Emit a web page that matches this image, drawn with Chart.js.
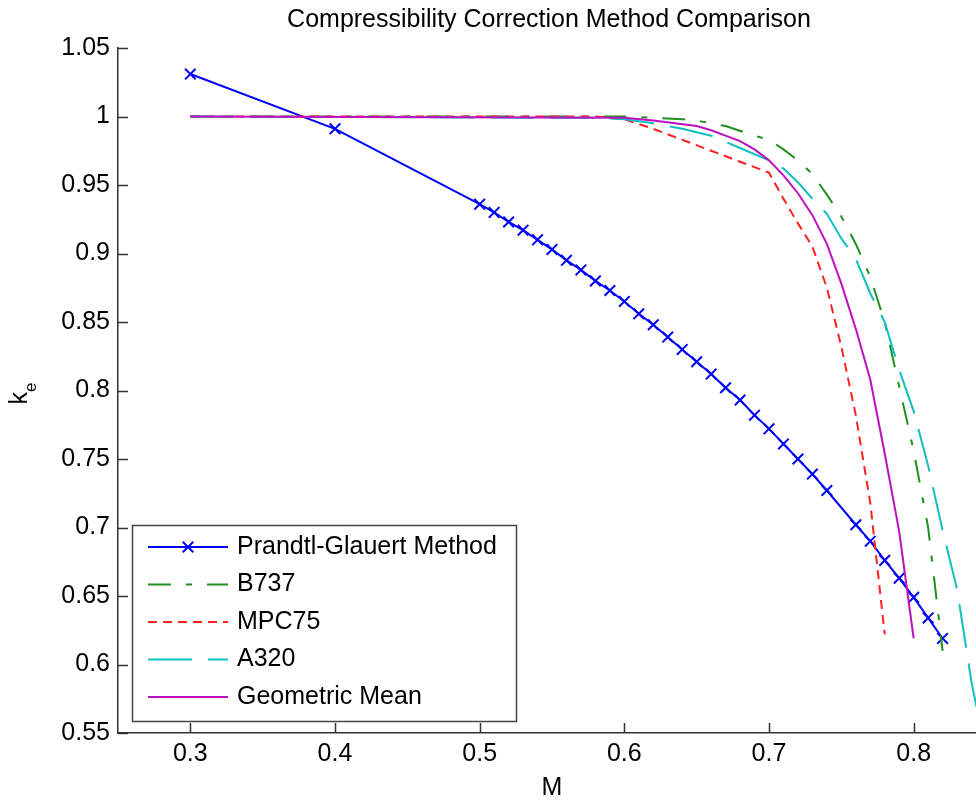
<!DOCTYPE html>
<html><head><meta charset="utf-8">
<script src="https://cdn.jsdelivr.net/npm/chart.js@4.4.1/dist/chart.umd.min.js"></script>
<style>html,body{margin:0;padding:0;overflow:hidden;background:#fff;width:976px;height:802px}canvas{display:block}</style>
</head><body>
<canvas id="c" width="1098" height="802"></canvas>
<script>
const titleText = 'Compressibility Correction Method Comparison';
const xAxisTitle = 'M';
const yAxisMain = 'k';
const yAxisSub = 'e';
const xTickValues = [0.3, 0.4, 0.5, 0.6, 0.7, 0.8];
const xTickLabels = ['0.3', '0.4', '0.5', '0.6', '0.7', '0.8'];
const yTickValues = [0.55, 0.6, 0.65, 0.7, 0.75, 0.8, 0.85, 0.9, 0.95, 1.0, 1.05];
const yTickLabels = ['0.55', '0.6', '0.65', '0.7', '0.75', '0.8', '0.85', '0.9', '0.95', '1', '1.05'];
const seriesNames = ['Prandtl-Glauert Method', 'B737', 'MPC75', 'A320', 'Geometric Mean'];

const pgMach = [0.30,0.40,0.50,0.51,0.52,0.53,0.54,0.55,0.56,0.57,0.58,0.59,0.60,0.61,0.62,0.63,0.64,0.65,0.66,0.67,0.68,0.69,0.70,0.71,0.72,0.73,0.74,0.76,0.77,0.78,0.79,0.80,0.81,0.82];
const pgKe   = [1.031,0.991,0.936,0.930,0.923,0.917,0.910,0.903,0.895,0.888,0.880,0.873,0.865,0.856,0.848,0.839,0.830,0.821,0.812,0.802,0.793,0.782,0.772,0.761,0.750,0.739,0.727,0.702,0.690,0.676,0.663,0.649,0.634,0.619];

const b737Mach = [0.30,0.60,0.62,0.64,0.65,0.67,0.69,0.70,0.71,0.72,0.73,0.74,0.75,0.76,0.77,0.78,0.79,0.80,0.81,0.82];
const b737Ke   = [1.000,1.000,0.999,0.998,0.997,0.993,0.986,0.983,0.976,0.968,0.958,0.943,0.927,0.907,0.883,0.850,0.803,0.756,0.700,0.610];

const mpc75Mach = [0.30,0.58,0.60,0.62,0.64,0.66,0.68,0.70,0.71,0.72,0.73,0.74,0.75,0.76,0.77,0.78];
const mpc75Ke   = [1.000,1.000,0.998,0.991,0.983,0.975,0.967,0.959,0.940,0.922,0.905,0.875,0.832,0.782,0.718,0.622];

const a320Mach = [0.30,0.58,0.60,0.62,0.64,0.66,0.68,0.70,0.71,0.72,0.73,0.74,0.75,0.76,0.77,0.78,0.79,0.80,0.81,0.82,0.83,0.84,0.85];
const a320Ke   = [1.000,0.999,0.998,0.995,0.991,0.986,0.977,0.968,0.962,0.952,0.940,0.929,0.911,0.896,0.871,0.850,0.815,0.785,0.745,0.698,0.655,0.587,0.535];

const geoMach = [0.30,0.60,0.62,0.65,0.66,0.68,0.69,0.70,0.71,0.72,0.73,0.74,0.75,0.76,0.77,0.78,0.79,0.80];
const geoKe   = [1.000,0.999,0.997,0.993,0.990,0.982,0.976,0.968,0.957,0.944,0.928,0.907,0.878,0.845,0.808,0.754,0.697,0.619];

const pts = (xs, ys) => xs.map((v, i) => ({x: v, y: ys[i]}));
const FONT = "'Liberation Sans', Arial, sans-serif";
const AXIS = '#333333';

const datasets = [
  {label: seriesNames[0], data: pts(pgMach, pgKe), borderColor: '#0000ff', borderWidth: 2, borderDash: [],
   pointStyle: 'crossRot', pointRadius: 7.5, pointBorderWidth: 2, pointBorderColor: '#0000ff', pointBackgroundColor: '#0000ff', order: 4},
  {label: seriesNames[1], data: pts(b737Mach, b737Ke), borderColor: '#1f8f1f', borderWidth: 2, borderDash: [23, 15, 6, 15], pointRadius: 0, order: 3},
  {label: seriesNames[2], data: pts(mpc75Mach, mpc75Ke), borderColor: '#ff2020', borderWidth: 2, borderDash: [9, 6], pointRadius: 0, order: 2},
  {label: seriesNames[3], data: pts(a320Mach, a320Ke), borderColor: '#10bfbf', borderWidth: 2, borderDash: [44, 16], pointRadius: 0, order: 1},
  {label: seriesNames[4], data: pts(geoMach, geoKe), borderColor: '#bf10bf', borderWidth: 2, borderDash: [], pointRadius: 0, order: 0}
];

const decorPlugin = {
  id: 'decor',
  afterDraw(chart) {
    const {ctx, chartArea: ca, scales: {x, y}} = chart;
    ctx.save();
    ctx.strokeStyle = AXIS; ctx.lineWidth = 1.5; ctx.setLineDash([]);
    ctx.beginPath();
    x.ticks.forEach(t => { const px = Math.round(x.getPixelForValue(t.value)) + 0.5; ctx.moveTo(px, ca.bottom); ctx.lineTo(px, ca.bottom - 10); });
    y.ticks.forEach(t => { const py = Math.round(y.getPixelForValue(t.value)) + 0.5; ctx.moveTo(ca.left, py); ctx.lineTo(ca.left + 10, py); });
    ctx.stroke();
    ctx.fillStyle = '#000';
    ctx.font = '25px ' + FONT;
    ctx.textAlign = 'center'; ctx.textBaseline = 'alphabetic';
    ctx.fillText(titleText, (ca.left + ca.right) / 2 - 3, 26.5);
    ctx.save();
    ctx.translate(27, (ca.top + ca.bottom) / 2 + 1.5);
    ctx.rotate(-Math.PI / 2);
    ctx.textAlign = 'left';
    ctx.font = '25px ' + FONT;
    ctx.fillText(yAxisMain, -12.5, 0);
    ctx.font = '17px ' + FONT;
    ctx.fillText(yAxisSub, 0, 9);
    ctx.restore();
    const bx = ca.left + 14, by = ca.bottom - 208, bw = 384, bh = 196;
    ctx.fillStyle = '#fff'; ctx.fillRect(bx, by, bw, bh);
    ctx.strokeStyle = '#444'; ctx.lineWidth = 1.5; ctx.strokeRect(bx + 0.5, by + 0.5, bw, bh);
    chart.data.datasets.forEach((ds, i) => {
      const ly = by + 22 + i * 37.5;
      ctx.beginPath();
      ctx.setLineDash(ds.borderDash || []);
      ctx.strokeStyle = ds.borderColor; ctx.lineWidth = ds.borderWidth;
      ctx.moveTo(bx + 16, ly); ctx.lineTo(bx + 96, ly); ctx.stroke();
      ctx.setLineDash([]);
      if (ds.pointRadius > 0) {
        const r = ds.pointRadius * 0.707;
        ctx.beginPath(); ctx.lineWidth = ds.pointBorderWidth;
        ctx.moveTo(bx + 56 - r, ly - r); ctx.lineTo(bx + 56 + r, ly + r);
        ctx.moveTo(bx + 56 - r, ly + r); ctx.lineTo(bx + 56 + r, ly - r);
        ctx.stroke();
      }
      ctx.fillStyle = '#000'; ctx.font = '25px ' + FONT;
      ctx.textAlign = 'left'; ctx.textBaseline = 'middle';
      ctx.fillText(ds.label, bx + 105, ly);
    });
    ctx.restore();
  }
};

new Chart(document.getElementById('c'), {
  type: 'line',
  data: {datasets},
  plugins: [decorPlugin],
  options: {
    responsive: false,
    animation: false,
    devicePixelRatio: 1,
    layout: {padding: {top: 48, right: 112, bottom: 0, left: 0}},
    plugins: {legend: {display: false}, title: {display: false}, tooltip: {enabled: false}},
    elements: {line: {tension: 0}},
    scales: {
      x: {
        type: 'linear', min: 0.25, max: 0.85,
        afterBuildTicks: s => { s.ticks = xTickValues.map(v => ({value: v})); },
        afterFit: s => { s.height = 69; },
        ticks: {autoSkip: false, maxRotation: 0, padding: 6, color: '#000', font: {family: FONT, size: 25},
                callback: (v, i) => xTickLabels[i]},
        grid: {display: false, drawTicks: false, tickLength: 0},
        border: {display: true, color: AXIS, width: 1.5},
        title: {display: true, text: xAxisTitle, color: '#000', font: {family: FONT, size: 25, lineHeight: 1}, padding: {top: 0, bottom: 1}}
      },
      y: {
        type: 'linear', min: 0.55, max: 1.05,
        afterBuildTicks: s => { s.ticks = yTickValues.map(v => ({value: v})); },
        afterFit: s => { s.width = 118; },
        ticks: {autoSkip: false, padding: 8, color: '#000', font: {family: FONT, size: 25},
                callback: (v, i) => yTickLabels[i]},
        grid: {display: false, drawTicks: false, tickLength: 0},
        border: {display: true, color: AXIS, width: 1.5}
      }
    }
  }
});
</script>
</body></html>
